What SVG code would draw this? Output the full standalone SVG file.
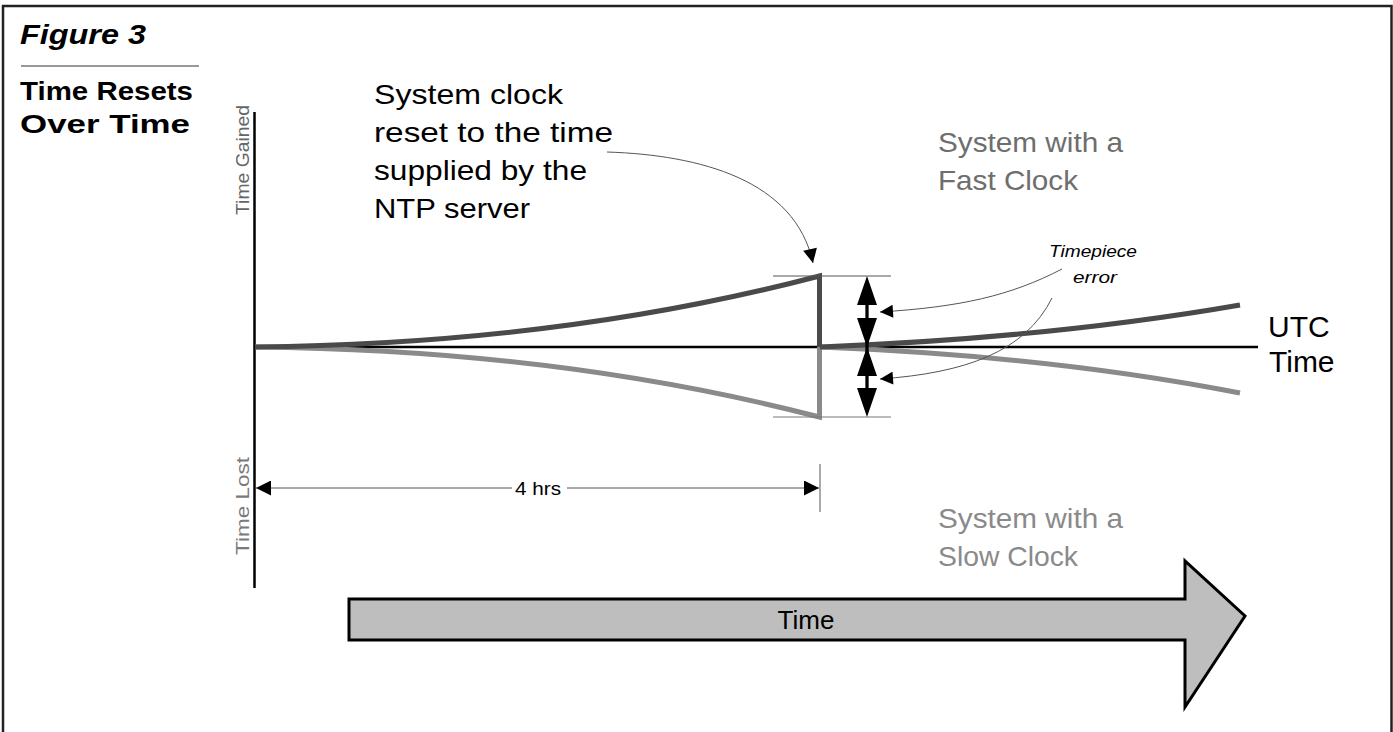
<svg xmlns="http://www.w3.org/2000/svg" width="1393" height="732" viewBox="0 0 1393 732">
  <style>
    text { font-family: "Liberation Sans", Arial, sans-serif; }
    .lbl { font-size: 28px; fill: #000; }
    .fast { font-size: 27.5px; fill: #6e6e6e; }
    .slow { font-size: 27.5px; fill: #8a8a8a; }
    .head { font-size: 25px; font-weight: bold; fill: #000; }
    .axislbl { font-size: 19px; }
    .hair { stroke: #555; stroke-width: 1; fill: none; }
  </style>
  <defs>
    <marker id="dimHead" viewBox="0 0 10 10" refX="10" refY="5" markerWidth="19" markerHeight="15" markerUnits="userSpaceOnUse" orient="auto-start-reverse">
      <path d="M0,0 L10,5 L0,10 Z" fill="#000"/>
    </marker>
    <marker id="callHead" viewBox="0 0 10 10" refX="10" refY="5" markerWidth="20" markerHeight="14" markerUnits="userSpaceOnUse" orient="auto">
      <path d="M0,0 L10,5 L0,10 Z" fill="#000"/>
    </marker>
    <marker id="errHead" viewBox="0 0 10 10" refX="10" refY="5" markerWidth="14" markerHeight="13" markerUnits="userSpaceOnUse" orient="auto">
      <path d="M0,0 L10,5 L0,10 Z" fill="#000"/>
    </marker>
  </defs>

  <!-- outer frame (open at the bottom) -->
  <path d="M3,732 V6 H1391.5 V732" fill="none" stroke="#222" stroke-width="2.5"/>

  <!-- title block -->
  <g id="title">
    <text x="20" y="44" font-size="28" font-weight="bold" font-style="italic" textLength="126" lengthAdjust="spacingAndGlyphs">Figure 3</text>
    <line x1="21" y1="66" x2="199" y2="66" stroke="#333" stroke-width="1"/>
    <text class="head" x="20" y="100" textLength="173" lengthAdjust="spacingAndGlyphs">Time Resets</text>
    <text class="head" x="20" y="133" textLength="170" lengthAdjust="spacingAndGlyphs">Over Time</text>
  </g>

  <!-- axes -->
  <g id="axes">
    <line x1="254.5" y1="112" x2="254.5" y2="588" stroke="#000" stroke-width="2.5"/>
    <line x1="255" y1="347" x2="1258" y2="347" stroke="#000" stroke-width="2.5"/>
    <text class="axislbl" fill="#666" transform="translate(249,160) rotate(-90)" text-anchor="middle" textLength="110" lengthAdjust="spacingAndGlyphs">Time Gained</text>
    <text class="axislbl" fill="#7a7a7a" transform="translate(249,506) rotate(-90)" text-anchor="middle" textLength="98" lengthAdjust="spacingAndGlyphs">Time Lost</text>
    <text x="1268" y="337" font-size="30">UTC</text>
    <text x="1269" y="372" font-size="30">Time</text>
  </g>

  <!-- clock drift curves -->
  <g id="slow-clock">
    <path d="M255,347 Q560,350 819.5,417 V347" fill="none" stroke="#8a8a8a" stroke-width="5" stroke-linejoin="miter"/>
    <path d="M820,347 Q1050,356 1240,393" fill="none" stroke="#8a8a8a" stroke-width="5"/>
  </g>
  <g id="fast-clock">
    <path d="M255,347 Q560,344 819.5,276 V347" fill="none" stroke="#4a4a4a" stroke-width="5" stroke-linejoin="miter"/>
    <path d="M820,347 Q1050,338 1240,305" fill="none" stroke="#4a4a4a" stroke-width="5"/>
  </g>

  <!-- error extents -->
  <g id="error-bars">
    <line x1="773" y1="276" x2="891" y2="276" stroke="#555" stroke-width="1"/>
    <line x1="773" y1="417" x2="891" y2="417" stroke="#777" stroke-width="1"/>
    <line x1="867" y1="290" x2="867" y2="405" stroke="#000" stroke-width="3.3"/>
    <path d="M867,276 L857,305 L877,305 Z M867,347 L857,318 L877,318 Z" fill="#000"/>
    <path d="M867,347 L857,376 L877,376 Z M867,417 L857,388 L877,388 Z" fill="#000"/>
  </g>

  <!-- labels -->
  <g id="reset-note">
    <text class="lbl" x="374" y="104" textLength="189" lengthAdjust="spacingAndGlyphs">System clock</text>
    <text class="lbl" x="374" y="142" textLength="239" lengthAdjust="spacingAndGlyphs">reset to the time</text>
    <text class="lbl" x="374" y="180" textLength="213" lengthAdjust="spacingAndGlyphs">supplied by the</text>
    <text class="lbl" x="374" y="218" textLength="156" lengthAdjust="spacingAndGlyphs">NTP server</text>
  </g>
  <g id="fast-label">
    <text class="fast" x="938" y="152" textLength="185" lengthAdjust="spacingAndGlyphs">System with a</text>
    <text class="fast" x="938" y="190" textLength="140" lengthAdjust="spacingAndGlyphs">Fast Clock</text>
  </g>
  <g id="slow-label">
    <text class="slow" x="938" y="528" textLength="185" lengthAdjust="spacingAndGlyphs">System with a</text>
    <text class="slow" x="938" y="566" textLength="140" lengthAdjust="spacingAndGlyphs">Slow Clock</text>
  </g>
  <g id="error-label">
    <text x="1049" y="257" font-size="16.5" font-style="italic" textLength="88" lengthAdjust="spacingAndGlyphs">Timepiece</text>
    <text x="1073" y="283" font-size="16.5" font-style="italic" textLength="44" lengthAdjust="spacingAndGlyphs">error</text>
  </g>

  <!-- connectors -->
  <g id="connectors">
    <path class="hair" d="M607,152 C700,155 795,180 813,263" marker-end="url(#callHead)"/>
    <path class="hair" d="M1062,269 C1010,296 960,307 880,312" marker-end="url(#errHead)"/>
    <path class="hair" d="M1052,298 C1025,352 965,373 880,379" marker-end="url(#errHead)"/>
    <line x1="820" y1="464" x2="820" y2="512" stroke="#555" stroke-width="1"/>
    <line class="hair" x1="256" y1="488" x2="512" y2="488" marker-start="url(#dimHead)"/>
    <line class="hair" x1="567" y1="488" x2="819" y2="488" marker-end="url(#dimHead)"/>
    <text x="515" y="495" font-size="19" textLength="46" lengthAdjust="spacingAndGlyphs">4 hrs</text>
  </g>

  <!-- large time arrow -->
  <g id="time-arrow">
    <path d="M349,599 H1185 V561 L1245,616 L1185,707 V640 H349 Z" fill="#bebebe" stroke="#000" stroke-width="3" stroke-linejoin="miter"/>
    <text x="806" y="629" font-size="26" text-anchor="middle">Time</text>
  </g>
</svg>
